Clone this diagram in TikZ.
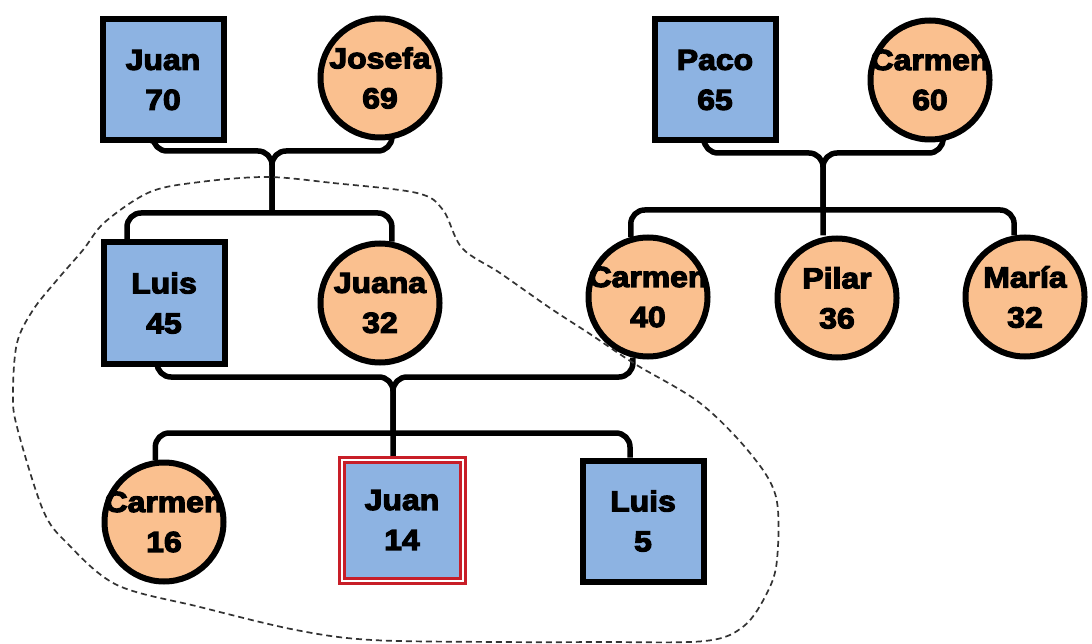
\documentclass[tikz,border=0pt]{standalone}
\usepackage{fontspec}
\setmainfont{Liberation Sans}[BoldFeatures={FakeBold=4,FakeStretch=1.1}]
\usetikzlibrary{backgrounds}
\definecolor{mblue}{RGB}{141,179,226}
\definecolor{forange}{RGB}{250,192,143}
\definecolor{hred}{RGB}{200,30,40}
\newcommand{\pname}[2]{\makebox[0pt][c]{#1}\\\makebox[0pt][c]{#2}}
\tikzset{
  person/.style={line width=6pt,draw=black,inner sep=0pt,align=center,
    font=\fontsize{29}{40}\selectfont\bfseries},
  male/.style={person,rectangle,fill=mblue,minimum size=121pt},
  female/.style={person,circle,fill=forange,minimum size=119pt},
  ego/.style={person,rectangle,fill=mblue,minimum size=121pt,draw=hred,
    double=white,double distance=2pt,line width=3pt},
  link/.style={line width=5.5pt,rounded corners=14pt,line cap=butt},
  group/.style={line width=1.7pt,draw=black!80,dash pattern=on 6pt off 4pt}
}
\begin{document}
\begin{tikzpicture}[x=1pt,y=-1pt]
\useasboundingbox (0,0) rectangle (1092,644);
% first generation
\node[male]   (JuanA)   at (163,80)  {\pname{Juan}{70}};
\node[female] (Josefa)  at (380,78)  {\pname{Josefa}{69}};
\node[male]   (Paco)    at (715,80)  {\pname{Paco}{65}};
\node[female] (CarmenA) at (930,80)  {\pname{Carmen}{60}};
% second generation
\node[male]   (LuisA)   at (164,303) {\pname{Luis}{45}};
\node[female] (Juana)   at (380,303) {\pname{Juana}{32}};
\node[female] (CarmenB) at (648,297) {\pname{Carmen}{40}};
\node[female] (Pilar)   at (837,298) {\pname{Pilar}{36}};
\node[female] (Maria)   at (1025,297){\pname{María}{32}};
% third generation
\node[female] (CarmenC) at (164,522) {\pname{Carmen}{16}};
\node[ego]    (JuanB)   at (402,520) {\pname{Juan}{14}};
\node[male]   (LuisB)   at (643,521) {\pname{Luis}{5}};
% junctions
\coordinate (j1) at (272,151);
\coordinate (k1) at (272,213);
\coordinate (j2) at (823,153);
\coordinate (k2) at (823,210);
\coordinate (j3) at (393,377);
\coordinate (k3) at (393,433);
\begin{scope}[on background layer]
% family 1
\draw[link] ([xshift=-10pt]JuanA.south) |- (j1) -- (k1);
\draw[link] (Josefa.-79) |- (j1) -- (k1);
\draw[link] ([xshift=-37pt]LuisA.north) |- (Juana.79 |- k1) -- (Juana.79);
% family 2
\draw[link] ([xshift=-11pt]Paco.south) |- (j2) -- ([xshift=-14pt]Pilar.north);
\draw[link] (CarmenA.-78) |- (j2) -- (k2);
\draw[link] (CarmenB.106) |- (Maria.100 |- k2) -- (Maria.100);
% family 3
\draw[link] ([xshift=-7pt]LuisA.south) |- (j3) -- ([xshift=-9pt]JuanB.north);
\draw[link] (CarmenB.-104) |- (j3) -- (k3);
\draw[link] (CarmenC.98) |- ([xshift=-13pt]LuisB.north |- k3) -- ([xshift=-13pt]LuisB.north);
\end{scope}
% household boundary
\draw[group] plot[smooth cycle,tension=0.55] coordinates {
  (267,177) (333,183) (417,193) (443,210) (462,248) (500,273) (550,308)
  (590,334) (635,364) (700,403) (750,453) (776,497) (777,560) (767,593)
  (744,626) (705,641) (600,642) (500,642) (372,640) (296,630) (200,607)
  (117,585) (67,543) (43,510) (17,427) (13,393) (17,343) (33,310)
  (57,280) (83,250) (105,222) (150,192) (200,182)};
\end{tikzpicture}
\end{document}
